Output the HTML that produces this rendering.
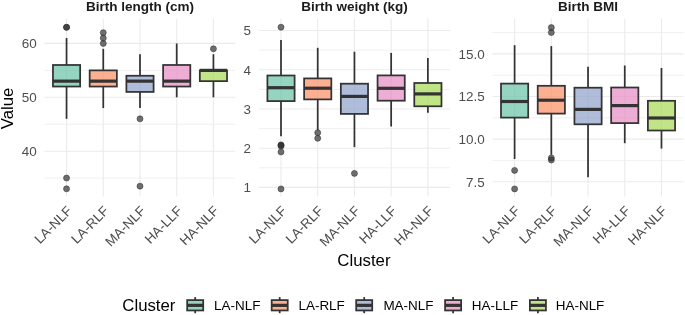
<!DOCTYPE html><html><head><meta charset="utf-8"><style>
html,body{margin:0;padding:0;background:#fff;width:685px;height:315px;overflow:hidden}
svg{display:block;font-family:"Liberation Sans", sans-serif}
svg{will-change:transform}
</style></head><body>
<svg width="685" height="315" viewBox="0 0 685 315">
<line x1="44.52" x2="235.40" y1="178.13" y2="178.13" stroke="#ebebeb" stroke-width="0.75"/>
<line x1="44.52" x2="235.40" y1="124.24" y2="124.24" stroke="#ebebeb" stroke-width="0.75"/>
<line x1="44.52" x2="235.40" y1="70.35" y2="70.35" stroke="#ebebeb" stroke-width="0.75"/>
<line x1="44.52" x2="235.40" y1="151.19" y2="151.19" stroke="#ebebeb" stroke-width="1.1"/>
<line x1="44.52" x2="235.40" y1="97.30" y2="97.30" stroke="#ebebeb" stroke-width="1.1"/>
<line x1="44.52" x2="235.40" y1="43.40" y2="43.40" stroke="#ebebeb" stroke-width="1.1"/>
<line x1="66.55" x2="66.55" y1="18.80" y2="196.60" stroke="#ebebeb" stroke-width="1.1"/>
<line x1="103.27" x2="103.27" y1="18.80" y2="196.60" stroke="#ebebeb" stroke-width="1.1"/>
<line x1="139.99" x2="139.99" y1="18.80" y2="196.60" stroke="#ebebeb" stroke-width="1.1"/>
<line x1="176.71" x2="176.71" y1="18.80" y2="196.60" stroke="#ebebeb" stroke-width="1.1"/>
<line x1="213.43" x2="213.43" y1="18.80" y2="196.60" stroke="#ebebeb" stroke-width="1.1"/>
<text x="36.62" y="151.19" font-size="13.44" fill="#4d4d4d" text-anchor="end" dy="0.36em">40</text>
<text x="36.62" y="97.30" font-size="13.44" fill="#4d4d4d" text-anchor="end" dy="0.36em">50</text>
<text x="36.62" y="43.40" font-size="13.44" fill="#4d4d4d" text-anchor="end" dy="0.36em">60</text>
<line x1="66.55" x2="66.55" y1="64.99" y2="38.06" stroke="#333333" stroke-width="1.75"/>
<line x1="66.55" x2="66.55" y1="86.53" y2="118.84" stroke="#333333" stroke-width="1.75"/>
<rect x="52.95" y="64.99" width="27.20" height="21.54" fill="#66c2a5" fill-opacity="0.7" stroke="#333333" stroke-width="1.75"/>
<line x1="52.95" x2="80.15" y1="81.14" y2="81.14" stroke="#333333" stroke-width="3.20"/>
<circle cx="66.55" cy="27.30" r="3.00" fill="#333333" fill-opacity="0.7" stroke="#333333" stroke-opacity="0.7" stroke-width="0.8"/>
<circle cx="66.55" cy="27.30" r="3.00" fill="#333333" fill-opacity="0.7" stroke="#333333" stroke-opacity="0.7" stroke-width="0.8"/>
<circle cx="66.55" cy="178.07" r="3.00" fill="#333333" fill-opacity="0.7" stroke="#333333" stroke-opacity="0.7" stroke-width="0.8"/>
<circle cx="66.55" cy="188.84" r="3.00" fill="#333333" fill-opacity="0.7" stroke="#333333" stroke-opacity="0.7" stroke-width="0.8"/>
<line x1="103.27" x2="103.27" y1="70.38" y2="48.84" stroke="#333333" stroke-width="1.75"/>
<line x1="103.27" x2="103.27" y1="86.53" y2="108.07" stroke="#333333" stroke-width="1.75"/>
<rect x="89.67" y="70.38" width="27.20" height="16.16" fill="#fc8d62" fill-opacity="0.7" stroke="#333333" stroke-width="1.75"/>
<line x1="89.67" x2="116.87" y1="81.14" y2="81.14" stroke="#333333" stroke-width="3.20"/>
<circle cx="103.27" cy="43.45" r="3.00" fill="#333333" fill-opacity="0.7" stroke="#333333" stroke-opacity="0.7" stroke-width="0.8"/>
<circle cx="103.27" cy="38.06" r="3.00" fill="#333333" fill-opacity="0.7" stroke="#333333" stroke-opacity="0.7" stroke-width="0.8"/>
<circle cx="103.27" cy="32.68" r="3.00" fill="#333333" fill-opacity="0.7" stroke="#333333" stroke-opacity="0.7" stroke-width="0.8"/>
<line x1="139.99" x2="139.99" y1="75.76" y2="54.22" stroke="#333333" stroke-width="1.75"/>
<line x1="139.99" x2="139.99" y1="91.91" y2="108.07" stroke="#333333" stroke-width="1.75"/>
<rect x="126.39" y="75.76" width="27.20" height="16.16" fill="#8da0cb" fill-opacity="0.7" stroke="#333333" stroke-width="1.75"/>
<line x1="126.39" x2="153.59" y1="81.14" y2="81.14" stroke="#333333" stroke-width="3.20"/>
<circle cx="139.99" cy="118.84" r="3.00" fill="#333333" fill-opacity="0.7" stroke="#333333" stroke-opacity="0.7" stroke-width="0.8"/>
<circle cx="139.99" cy="186.15" r="3.00" fill="#333333" fill-opacity="0.7" stroke="#333333" stroke-opacity="0.7" stroke-width="0.8"/>
<line x1="176.71" x2="176.71" y1="64.99" y2="43.45" stroke="#333333" stroke-width="1.75"/>
<line x1="176.71" x2="176.71" y1="86.53" y2="97.30" stroke="#333333" stroke-width="1.75"/>
<rect x="163.11" y="64.99" width="27.20" height="21.54" fill="#e78ac3" fill-opacity="0.7" stroke="#333333" stroke-width="1.75"/>
<line x1="163.11" x2="190.31" y1="81.14" y2="81.14" stroke="#333333" stroke-width="3.20"/>
<line x1="213.43" x2="213.43" y1="70.38" y2="54.22" stroke="#333333" stroke-width="1.75"/>
<line x1="213.43" x2="213.43" y1="81.14" y2="97.30" stroke="#333333" stroke-width="1.75"/>
<rect x="199.83" y="70.38" width="27.20" height="10.77" fill="#a6d854" fill-opacity="0.7" stroke="#333333" stroke-width="1.75"/>
<line x1="199.83" x2="227.03" y1="70.38" y2="70.38" stroke="#333333" stroke-width="3.20"/>
<circle cx="213.43" cy="48.84" r="3.00" fill="#333333" fill-opacity="0.7" stroke="#333333" stroke-opacity="0.7" stroke-width="0.8"/>
<text x="139.96" y="10.9" font-size="13.52" font-weight="bold" fill="#1a1a1a" text-anchor="middle">Birth length (cm)</text>
<text font-size="13.44" fill="#4d4d4d" text-anchor="end" transform="translate(65.95 204.90) rotate(-45)" dy="0.72em">LA-NLF</text>
<text font-size="13.44" fill="#4d4d4d" text-anchor="end" transform="translate(102.67 204.90) rotate(-45)" dy="0.72em">LA-RLF</text>
<text font-size="13.44" fill="#4d4d4d" text-anchor="end" transform="translate(139.39 204.90) rotate(-45)" dy="0.72em">MA-NLF</text>
<text font-size="13.44" fill="#4d4d4d" text-anchor="end" transform="translate(176.11 204.90) rotate(-45)" dy="0.72em">HA-LLF</text>
<text font-size="13.44" fill="#4d4d4d" text-anchor="end" transform="translate(212.83 204.90) rotate(-45)" dy="0.72em">HA-NLF</text>
<line x1="258.97" x2="449.90" y1="167.80" y2="167.80" stroke="#ebebeb" stroke-width="0.75"/>
<line x1="258.97" x2="449.90" y1="128.59" y2="128.59" stroke="#ebebeb" stroke-width="0.75"/>
<line x1="258.97" x2="449.90" y1="89.38" y2="89.38" stroke="#ebebeb" stroke-width="0.75"/>
<line x1="258.97" x2="449.90" y1="50.16" y2="50.16" stroke="#ebebeb" stroke-width="0.75"/>
<line x1="258.97" x2="449.90" y1="187.40" y2="187.40" stroke="#ebebeb" stroke-width="1.1"/>
<line x1="258.97" x2="449.90" y1="148.19" y2="148.19" stroke="#ebebeb" stroke-width="1.1"/>
<line x1="258.97" x2="449.90" y1="108.98" y2="108.98" stroke="#ebebeb" stroke-width="1.1"/>
<line x1="258.97" x2="449.90" y1="69.77" y2="69.77" stroke="#ebebeb" stroke-width="1.1"/>
<line x1="258.97" x2="449.90" y1="30.56" y2="30.56" stroke="#ebebeb" stroke-width="1.1"/>
<line x1="281.00" x2="281.00" y1="18.80" y2="196.60" stroke="#ebebeb" stroke-width="1.1"/>
<line x1="317.72" x2="317.72" y1="18.80" y2="196.60" stroke="#ebebeb" stroke-width="1.1"/>
<line x1="354.44" x2="354.44" y1="18.80" y2="196.60" stroke="#ebebeb" stroke-width="1.1"/>
<line x1="391.16" x2="391.16" y1="18.80" y2="196.60" stroke="#ebebeb" stroke-width="1.1"/>
<line x1="427.88" x2="427.88" y1="18.80" y2="196.60" stroke="#ebebeb" stroke-width="1.1"/>
<text x="251.07" y="187.40" font-size="13.44" fill="#4d4d4d" text-anchor="end" dy="0.36em">1</text>
<text x="251.07" y="148.19" font-size="13.44" fill="#4d4d4d" text-anchor="end" dy="0.36em">2</text>
<text x="251.07" y="108.98" font-size="13.44" fill="#4d4d4d" text-anchor="end" dy="0.36em">3</text>
<text x="251.07" y="69.77" font-size="13.44" fill="#4d4d4d" text-anchor="end" dy="0.36em">4</text>
<text x="251.07" y="30.56" font-size="13.44" fill="#4d4d4d" text-anchor="end" dy="0.36em">5</text>
<line x1="281.00" x2="281.00" y1="75.50" y2="40.00" stroke="#333333" stroke-width="1.75"/>
<line x1="281.00" x2="281.00" y1="101.10" y2="136.20" stroke="#333333" stroke-width="1.75"/>
<rect x="267.40" y="75.50" width="27.20" height="25.60" fill="#66c2a5" fill-opacity="0.7" stroke="#333333" stroke-width="1.75"/>
<line x1="267.40" x2="294.60" y1="87.70" y2="87.70" stroke="#333333" stroke-width="3.20"/>
<circle cx="281.00" cy="27.20" r="3.00" fill="#333333" fill-opacity="0.7" stroke="#333333" stroke-opacity="0.7" stroke-width="0.8"/>
<circle cx="281.00" cy="144.90" r="3.00" fill="#333333" fill-opacity="0.7" stroke="#333333" stroke-opacity="0.7" stroke-width="0.8"/>
<circle cx="281.00" cy="145.30" r="3.00" fill="#333333" fill-opacity="0.7" stroke="#333333" stroke-opacity="0.7" stroke-width="0.8"/>
<circle cx="281.00" cy="146.10" r="3.00" fill="#333333" fill-opacity="0.7" stroke="#333333" stroke-opacity="0.7" stroke-width="0.8"/>
<circle cx="281.00" cy="151.95" r="3.00" fill="#333333" fill-opacity="0.7" stroke="#333333" stroke-opacity="0.7" stroke-width="0.8"/>
<circle cx="281.00" cy="188.90" r="3.00" fill="#333333" fill-opacity="0.7" stroke="#333333" stroke-opacity="0.7" stroke-width="0.8"/>
<line x1="317.72" x2="317.72" y1="78.40" y2="47.80" stroke="#333333" stroke-width="1.75"/>
<line x1="317.72" x2="317.72" y1="99.40" y2="130.10" stroke="#333333" stroke-width="1.75"/>
<rect x="304.12" y="78.40" width="27.20" height="21.00" fill="#fc8d62" fill-opacity="0.7" stroke="#333333" stroke-width="1.75"/>
<line x1="304.12" x2="331.32" y1="88.20" y2="88.20" stroke="#333333" stroke-width="3.20"/>
<circle cx="317.72" cy="132.70" r="3.00" fill="#333333" fill-opacity="0.7" stroke="#333333" stroke-opacity="0.7" stroke-width="0.8"/>
<circle cx="317.72" cy="138.30" r="3.00" fill="#333333" fill-opacity="0.7" stroke="#333333" stroke-opacity="0.7" stroke-width="0.8"/>
<line x1="354.44" x2="354.44" y1="83.70" y2="51.70" stroke="#333333" stroke-width="1.75"/>
<line x1="354.44" x2="354.44" y1="113.90" y2="147.10" stroke="#333333" stroke-width="1.75"/>
<rect x="340.84" y="83.70" width="27.20" height="30.20" fill="#8da0cb" fill-opacity="0.7" stroke="#333333" stroke-width="1.75"/>
<line x1="340.84" x2="368.04" y1="96.40" y2="96.40" stroke="#333333" stroke-width="3.20"/>
<circle cx="354.44" cy="173.40" r="3.00" fill="#333333" fill-opacity="0.7" stroke="#333333" stroke-opacity="0.7" stroke-width="0.8"/>
<line x1="391.16" x2="391.16" y1="75.40" y2="52.90" stroke="#333333" stroke-width="1.75"/>
<line x1="391.16" x2="391.16" y1="100.70" y2="126.50" stroke="#333333" stroke-width="1.75"/>
<rect x="377.56" y="75.40" width="27.20" height="25.30" fill="#e78ac3" fill-opacity="0.7" stroke="#333333" stroke-width="1.75"/>
<line x1="377.56" x2="404.76" y1="88.30" y2="88.30" stroke="#333333" stroke-width="3.20"/>
<line x1="427.88" x2="427.88" y1="83.00" y2="58.10" stroke="#333333" stroke-width="1.75"/>
<line x1="427.88" x2="427.88" y1="106.30" y2="112.70" stroke="#333333" stroke-width="1.75"/>
<rect x="414.28" y="83.00" width="27.20" height="23.30" fill="#a6d854" fill-opacity="0.7" stroke="#333333" stroke-width="1.75"/>
<line x1="414.28" x2="441.48" y1="93.90" y2="93.90" stroke="#333333" stroke-width="3.20"/>
<text x="354.44" y="10.9" font-size="13.52" font-weight="bold" fill="#1a1a1a" text-anchor="middle">Birth weight (kg)</text>
<text font-size="13.44" fill="#4d4d4d" text-anchor="end" transform="translate(280.40 204.90) rotate(-45)" dy="0.72em">LA-NLF</text>
<text font-size="13.44" fill="#4d4d4d" text-anchor="end" transform="translate(317.12 204.90) rotate(-45)" dy="0.72em">LA-RLF</text>
<text font-size="13.44" fill="#4d4d4d" text-anchor="end" transform="translate(353.84 204.90) rotate(-45)" dy="0.72em">MA-NLF</text>
<text font-size="13.44" fill="#4d4d4d" text-anchor="end" transform="translate(390.56 204.90) rotate(-45)" dy="0.72em">HA-LLF</text>
<text font-size="13.44" fill="#4d4d4d" text-anchor="end" transform="translate(427.28 204.90) rotate(-45)" dy="0.72em">HA-NLF</text>
<line x1="492.57" x2="683.50" y1="160.40" y2="160.40" stroke="#ebebeb" stroke-width="0.75"/>
<line x1="492.57" x2="683.50" y1="117.80" y2="117.80" stroke="#ebebeb" stroke-width="0.75"/>
<line x1="492.57" x2="683.50" y1="75.20" y2="75.20" stroke="#ebebeb" stroke-width="0.75"/>
<line x1="492.57" x2="683.50" y1="32.60" y2="32.60" stroke="#ebebeb" stroke-width="0.75"/>
<line x1="492.57" x2="683.50" y1="181.70" y2="181.70" stroke="#ebebeb" stroke-width="1.1"/>
<line x1="492.57" x2="683.50" y1="139.10" y2="139.10" stroke="#ebebeb" stroke-width="1.1"/>
<line x1="492.57" x2="683.50" y1="96.50" y2="96.50" stroke="#ebebeb" stroke-width="1.1"/>
<line x1="492.57" x2="683.50" y1="53.90" y2="53.90" stroke="#ebebeb" stroke-width="1.1"/>
<line x1="514.60" x2="514.60" y1="18.80" y2="196.60" stroke="#ebebeb" stroke-width="1.1"/>
<line x1="551.32" x2="551.32" y1="18.80" y2="196.60" stroke="#ebebeb" stroke-width="1.1"/>
<line x1="588.04" x2="588.04" y1="18.80" y2="196.60" stroke="#ebebeb" stroke-width="1.1"/>
<line x1="624.76" x2="624.76" y1="18.80" y2="196.60" stroke="#ebebeb" stroke-width="1.1"/>
<line x1="661.48" x2="661.48" y1="18.80" y2="196.60" stroke="#ebebeb" stroke-width="1.1"/>
<text x="484.67" y="181.70" font-size="13.44" fill="#4d4d4d" text-anchor="end" dy="0.36em">7.5</text>
<text x="484.67" y="139.10" font-size="13.44" fill="#4d4d4d" text-anchor="end" dy="0.36em">10.0</text>
<text x="484.67" y="96.50" font-size="13.44" fill="#4d4d4d" text-anchor="end" dy="0.36em">12.5</text>
<text x="484.67" y="53.90" font-size="13.44" fill="#4d4d4d" text-anchor="end" dy="0.36em">15.0</text>
<line x1="514.60" x2="514.60" y1="83.60" y2="45.20" stroke="#333333" stroke-width="1.75"/>
<line x1="514.60" x2="514.60" y1="117.60" y2="159.00" stroke="#333333" stroke-width="1.75"/>
<rect x="501.00" y="83.60" width="27.20" height="34.00" fill="#66c2a5" fill-opacity="0.7" stroke="#333333" stroke-width="1.75"/>
<line x1="501.00" x2="528.20" y1="101.50" y2="101.50" stroke="#333333" stroke-width="3.20"/>
<circle cx="514.60" cy="170.40" r="3.00" fill="#333333" fill-opacity="0.7" stroke="#333333" stroke-opacity="0.7" stroke-width="0.8"/>
<circle cx="514.60" cy="188.90" r="3.00" fill="#333333" fill-opacity="0.7" stroke="#333333" stroke-opacity="0.7" stroke-width="0.8"/>
<line x1="551.32" x2="551.32" y1="85.80" y2="46.10" stroke="#333333" stroke-width="1.75"/>
<line x1="551.32" x2="551.32" y1="113.60" y2="154.80" stroke="#333333" stroke-width="1.75"/>
<rect x="537.72" y="85.80" width="27.20" height="27.80" fill="#fc8d62" fill-opacity="0.7" stroke="#333333" stroke-width="1.75"/>
<line x1="537.72" x2="564.92" y1="100.20" y2="100.20" stroke="#333333" stroke-width="3.20"/>
<circle cx="551.32" cy="27.60" r="3.00" fill="#333333" fill-opacity="0.7" stroke="#333333" stroke-opacity="0.7" stroke-width="0.8"/>
<circle cx="551.32" cy="32.50" r="3.00" fill="#333333" fill-opacity="0.7" stroke="#333333" stroke-opacity="0.7" stroke-width="0.8"/>
<circle cx="551.32" cy="157.90" r="3.00" fill="#333333" fill-opacity="0.7" stroke="#333333" stroke-opacity="0.7" stroke-width="0.8"/>
<circle cx="551.32" cy="160.00" r="3.00" fill="#333333" fill-opacity="0.7" stroke="#333333" stroke-opacity="0.7" stroke-width="0.8"/>
<line x1="588.04" x2="588.04" y1="87.70" y2="66.80" stroke="#333333" stroke-width="1.75"/>
<line x1="588.04" x2="588.04" y1="124.30" y2="177.20" stroke="#333333" stroke-width="1.75"/>
<rect x="574.44" y="87.70" width="27.20" height="36.60" fill="#8da0cb" fill-opacity="0.7" stroke="#333333" stroke-width="1.75"/>
<line x1="574.44" x2="601.64" y1="109.40" y2="109.40" stroke="#333333" stroke-width="3.20"/>
<line x1="624.76" x2="624.76" y1="87.50" y2="65.50" stroke="#333333" stroke-width="1.75"/>
<line x1="624.76" x2="624.76" y1="123.10" y2="143.20" stroke="#333333" stroke-width="1.75"/>
<rect x="611.16" y="87.50" width="27.20" height="35.60" fill="#e78ac3" fill-opacity="0.7" stroke="#333333" stroke-width="1.75"/>
<line x1="611.16" x2="638.36" y1="105.60" y2="105.60" stroke="#333333" stroke-width="3.20"/>
<line x1="661.48" x2="661.48" y1="100.80" y2="68.00" stroke="#333333" stroke-width="1.75"/>
<line x1="661.48" x2="661.48" y1="130.50" y2="148.60" stroke="#333333" stroke-width="1.75"/>
<rect x="647.88" y="100.80" width="27.20" height="29.70" fill="#a6d854" fill-opacity="0.7" stroke="#333333" stroke-width="1.75"/>
<line x1="647.88" x2="675.08" y1="118.00" y2="118.00" stroke="#333333" stroke-width="3.20"/>
<text x="588.03" y="10.9" font-size="13.52" font-weight="bold" fill="#1a1a1a" text-anchor="middle">Birth BMI</text>
<text font-size="13.44" fill="#4d4d4d" text-anchor="end" transform="translate(514.00 204.90) rotate(-45)" dy="0.72em">LA-NLF</text>
<text font-size="13.44" fill="#4d4d4d" text-anchor="end" transform="translate(550.72 204.90) rotate(-45)" dy="0.72em">LA-RLF</text>
<text font-size="13.44" fill="#4d4d4d" text-anchor="end" transform="translate(587.44 204.90) rotate(-45)" dy="0.72em">MA-NLF</text>
<text font-size="13.44" fill="#4d4d4d" text-anchor="end" transform="translate(624.16 204.90) rotate(-45)" dy="0.72em">HA-LLF</text>
<text font-size="13.44" fill="#4d4d4d" text-anchor="end" transform="translate(660.88 204.90) rotate(-45)" dy="0.72em">HA-NLF</text>
<text font-size="16.8" fill="#000" text-anchor="middle" transform="translate(13.2 108.4) rotate(-90)">Value</text>
<text x="363.9" y="265.6" font-size="16.8" fill="#000" text-anchor="middle">Cluster</text>
<text x="122.3" y="311.3" font-size="16.8" fill="#000">Cluster</text>
<line x1="195.20" x2="195.20" y1="297.1" y2="313.2" stroke="#333333" stroke-width="1.75"/>
<rect x="187.17" y="300.1" width="16.05" height="10.35" fill="#94d4c0" stroke="#333333" stroke-width="1.75"/>
<line x1="187.17" x2="203.22" y1="305.35" y2="305.35" stroke="#333333" stroke-width="3.20"/>
<text x="214.10" y="310.0" font-size="13.44" fill="#000">LA-NLF</text>
<line x1="279.70" x2="279.70" y1="297.1" y2="313.2" stroke="#333333" stroke-width="1.75"/>
<rect x="271.68" y="300.1" width="16.05" height="10.35" fill="#fdaf91" stroke="#333333" stroke-width="1.75"/>
<line x1="271.68" x2="287.72" y1="305.35" y2="305.35" stroke="#333333" stroke-width="3.20"/>
<text x="298.50" y="310.0" font-size="13.44" fill="#000">LA-RLF</text>
<line x1="364.20" x2="364.20" y1="297.1" y2="313.2" stroke="#333333" stroke-width="1.75"/>
<rect x="356.18" y="300.1" width="16.05" height="10.35" fill="#afbddb" stroke="#333333" stroke-width="1.75"/>
<line x1="356.18" x2="372.22" y1="305.35" y2="305.35" stroke="#333333" stroke-width="3.20"/>
<text x="383.40" y="310.0" font-size="13.44" fill="#000">MA-NLF</text>
<line x1="453.10" x2="453.10" y1="297.1" y2="313.2" stroke="#333333" stroke-width="1.75"/>
<rect x="445.08" y="300.1" width="16.05" height="10.35" fill="#eeadd5" stroke="#333333" stroke-width="1.75"/>
<line x1="445.08" x2="461.12" y1="305.35" y2="305.35" stroke="#333333" stroke-width="3.20"/>
<text x="471.80" y="310.0" font-size="13.44" fill="#000">HA-LLF</text>
<line x1="537.90" x2="537.90" y1="297.1" y2="313.2" stroke="#333333" stroke-width="1.75"/>
<rect x="529.88" y="300.1" width="16.05" height="10.35" fill="#c1e487" stroke="#333333" stroke-width="1.75"/>
<line x1="529.88" x2="545.92" y1="305.35" y2="305.35" stroke="#333333" stroke-width="3.20"/>
<text x="555.80" y="310.0" font-size="13.44" fill="#000">HA-NLF</text>
</svg></body></html>
